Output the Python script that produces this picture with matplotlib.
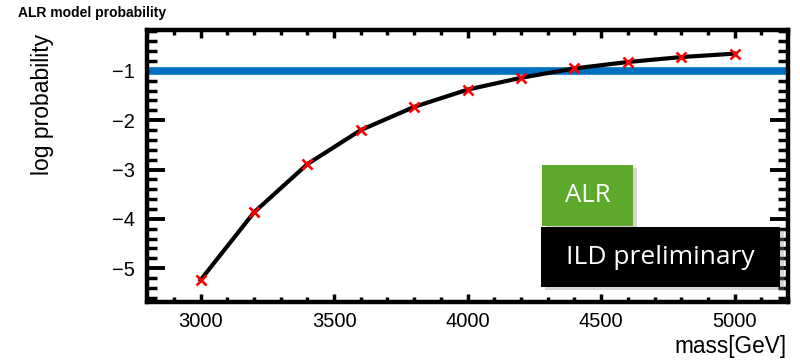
import matplotlib
matplotlib.use("Agg")
import matplotlib.pyplot as plt
from matplotlib.ticker import MultipleLocator, FixedLocator
from matplotlib.patches import Rectangle

plt.rcParams['font.family'] = ['Liberation Sans', 'DejaVu Sans']

mass = [3000, 3200, 3400, 3600, 3800, 4000, 4200, 4400, 4600, 4800, 5000]
logprob = [-5.24, -3.87, -2.89, -2.20, -1.73, -1.38, -1.14, -0.95, -0.82, -0.72, -0.65]
threshold = -1.0
xticks = [3000, 3500, 4000, 4500, 5000]
yticks = [-5, -4, -3, -2, -1]

fig = plt.figure(figsize=(8, 3.61), dpi=100)
ax = fig.add_axes([0.184, 0.163, 0.801, 0.754])

ax.axhline(threshold, color='#0070C0', lw=5.5, zorder=2)
ax.plot(mass, logprob, color='black', lw=3, zorder=3, solid_joinstyle='round')
ax.plot(mass, logprob, ls='none', marker='x', color='red', ms=7.5, mew=1.9, zorder=4)

ax.set_xlim(2800, 5200)
ax.set_ylim(-5.69, -0.17)
ax.xaxis.set_major_locator(FixedLocator(xticks))
ax.yaxis.set_major_locator(FixedLocator(yticks))
ax.xaxis.set_minor_locator(MultipleLocator(100))
ax.yaxis.set_minor_locator(MultipleLocator(0.2))
ax.set_xticklabels([str(v) for v in xticks])
ax.set_yticklabels(['\u2212' + str(abs(v)) for v in yticks])

for s in ax.spines.values():
    s.set_linewidth(3.2)
ax.tick_params(axis='both', which='both', direction='in', top=True, right=True,
               labelsize=14.5, color='black')
ax.tick_params(axis='x', which='major', length=6, width=2.5, pad=7)
ax.tick_params(axis='x', which='minor', length=3.5, width=2.5)
ax.tick_params(axis='y', which='major', length=13, width=2.8, pad=9)
ax.tick_params(axis='y', which='minor', length=7, width=2.5)

fig.text(42/800, 1 - 104/361, 'log probability', rotation=90, ha='center', va='center', fontsize=16.5)
fig.text(787/800, 1 - 346/361, 'mass[GeV]', ha='right', va='center', fontsize=16.3)
fig.text(18/800, 1 - 13/361, 'ALR model probability', ha='left', va='center', fontsize=10, fontweight='bold')

# annotation boxes
def box(x0, y0, x1, y1, color, zorder):
    sh = Rectangle((x0 + 0.006, y0 - 0.012), x1 - x0, y1 - y0, transform=ax.transAxes,
                   facecolor='#888888', alpha=0.35, edgecolor='none', zorder=zorder - 1, clip_on=False)
    ax.add_patch(sh)
    r = Rectangle((x0, y0), x1 - x0, y1 - y0, transform=ax.transAxes,
                  facecolor=color, edgecolor='none', zorder=zorder, clip_on=False)
    ax.add_patch(r)

box(0.616, 0.279, 0.758, 0.504, '#5DA92B', 6)
box(0.615, 0.055, 0.988, 0.276, '#000000', 8)
ax.text((0.616 + 0.758) / 2, (0.279 + 0.504) / 2, 'ALR', transform=ax.transAxes,
        ha='center', va='center', color='white', fontsize=18.5, family=['Open Sans', 'DejaVu Sans'], zorder=9)
ax.text((0.615 + 0.988) / 2, (0.055 + 0.276) / 2, 'ILD preliminary', transform=ax.transAxes,
        ha='center', va='center', color='white', fontsize=19, family=['Open Sans', 'DejaVu Sans'], zorder=9)

fig.savefig('out.png', dpi=100)
